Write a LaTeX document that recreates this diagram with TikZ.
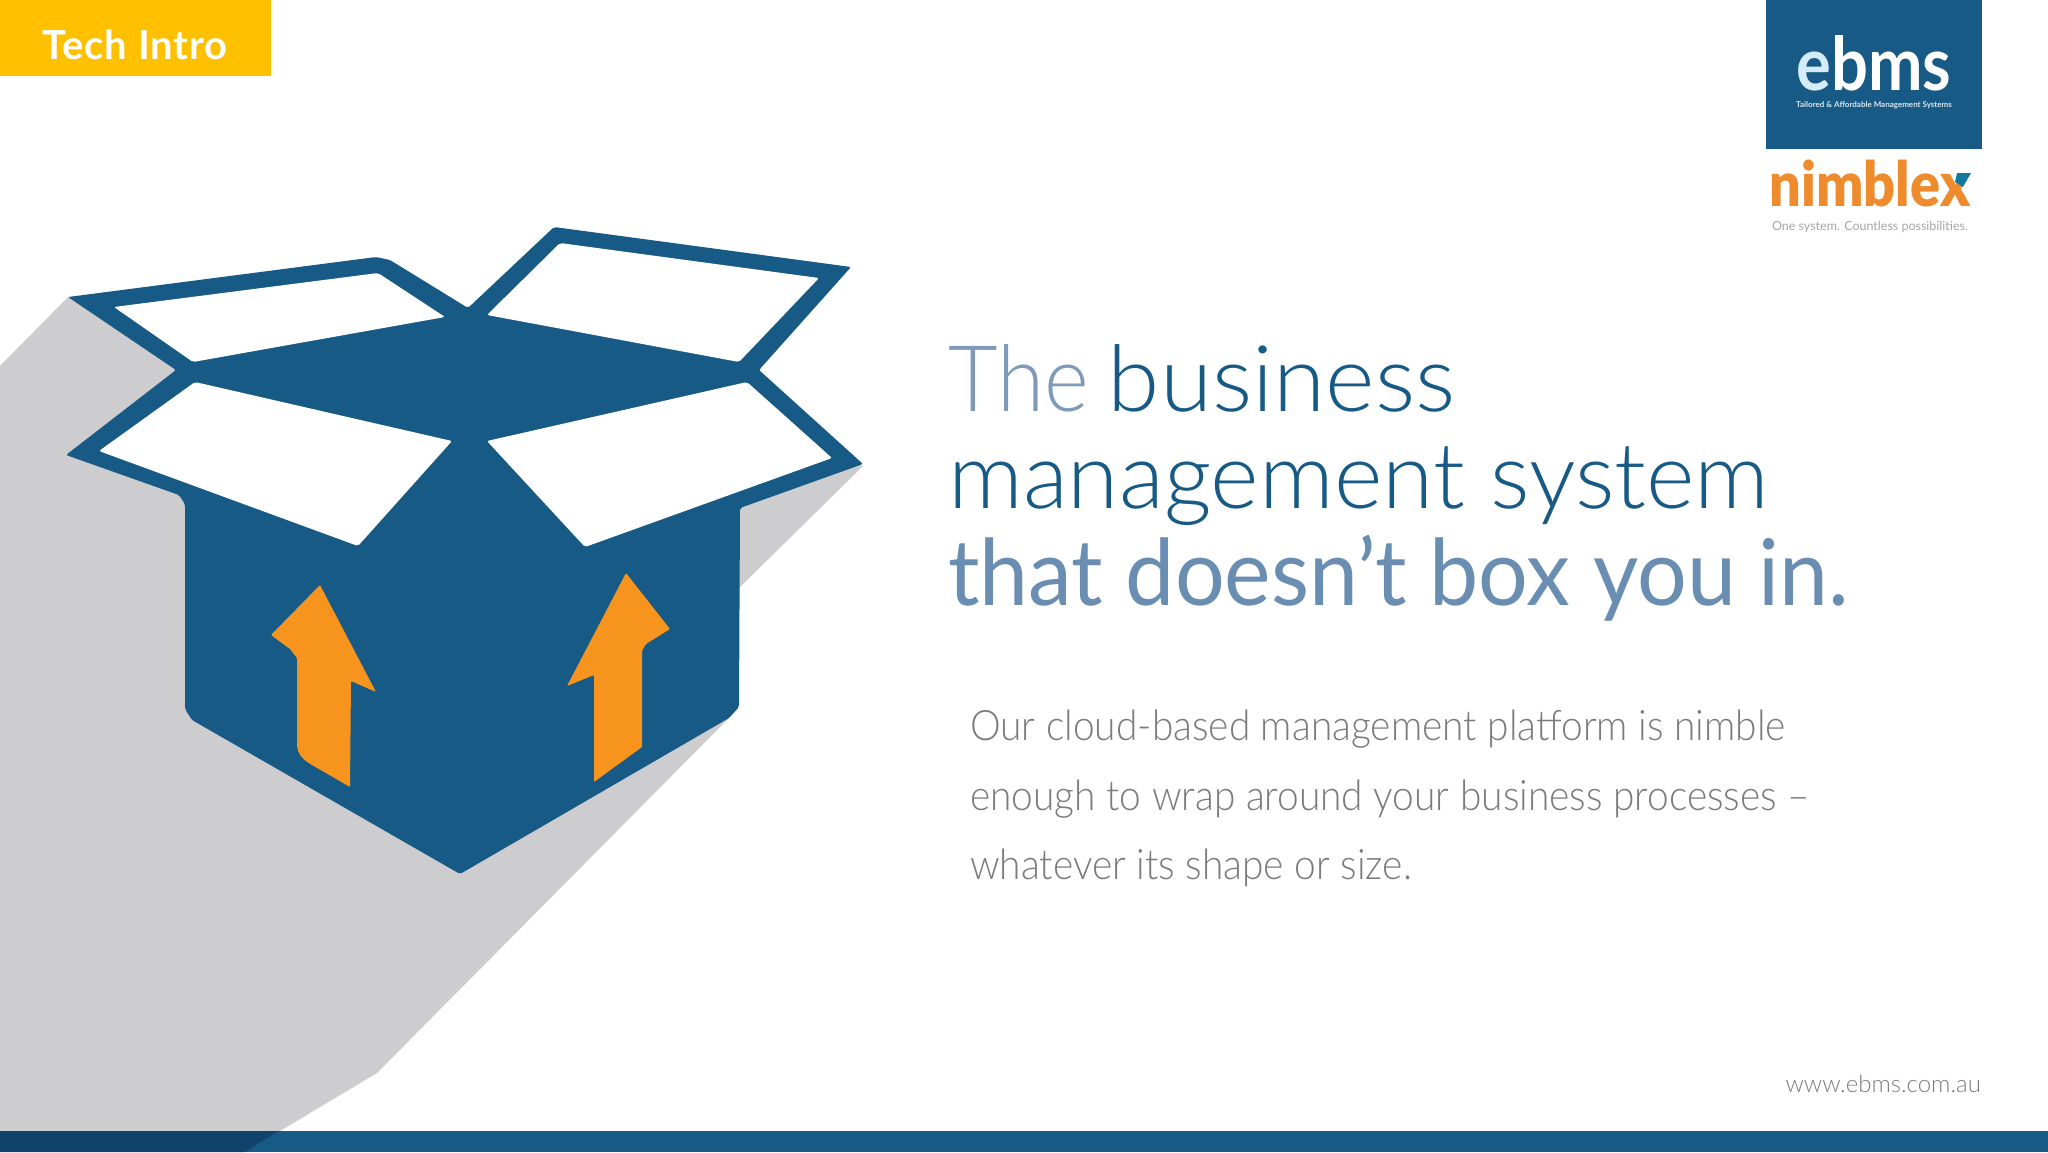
\documentclass[tikz,border=0pt]{standalone}
\usepackage{fontspec}
\setmainfont{Lato}
\newfontfamily\lightfont{Lato Light}
\newfontfamily\heavyfont{Lato Black}
\usetikzlibrary{positioning}
\definecolor{boxblue}{HTML}{165A85}
\definecolor{barshade}{HTML}{10436B}
\definecolor{boxorange}{HTML}{F7941E}
\definecolor{logoorange}{HTML}{EE8B2C}
\definecolor{shadowgrey}{HTML}{CDCCCF}
\definecolor{tagyellow}{HTML}{FFC000}
\definecolor{titlepale}{HTML}{7F9AB8}
\definecolor{titlemid}{HTML}{6A8DB2}
\definecolor{bodygrey}{HTML}{7C7A7E}
\definecolor{logopale}{HTML}{D5EBF8}
\tikzset{
  boxfill/.style={fill=boxblue, rounded corners=2pt},
  flap/.style={fill=white, rounded corners=2pt},
  uparrow/.style={fill=boxorange, rounded corners=1pt},
  titleline/.style={anchor=base west, inner sep=0pt, font=\lightfont\fontsize{92}{92}\selectfont\addfontfeatures{FakeStretch=1.01}},
  bodyline/.style={anchor=base west, inner sep=0pt, text=bodygrey, font=\lightfont\fontsize{42}{42}\selectfont\addfontfeatures{FakeStretch=0.925}}
}
\begin{document}
\begin{tikzpicture}[x=1pt,y=-1pt]
	\useasboundingbox (0,0) rectangle (2048,1152);
	\fill[white] (0,0) rectangle (2048,1152);
	% shadow and bottom bar
	\fill[shadowgrey] (0,366) -- (68,297) -- (863,466) -- (739,588) -- (729,718) -- (377,1073) -- (280,1131) -- (0,1131) -- cycle;
	\fill[boxblue] (0,1131) rectangle (2048,1152);
	\fill[barshade] (0,1131) -- (278,1131) -- (245,1152) -- (0,1152) -- cycle;
	% box
	\fill[boxfill] (68,297) -- (376,257) -- (390,260) -- (468,308) -- (554,227) -- (851,267) -- (759,370) -- (863,464) -- (740,508) -- (739,707) -- (729,718) -- (460,874) -- (192,720) -- (185,709) -- (185,504) -- (179,495) -- (66,455) -- (176,370) -- cycle;
	\fill[flap] (114,307) -- (378,273) -- (445,317) -- (193,362) -- cycle;
	\fill[flap] (560,243) -- (819,278) -- (739,362) -- (487,315) -- cycle;
	\fill[flap] (195,382) -- (452,441) -- (358,546) -- (99,451) -- cycle;
	\fill[flap] (747,382) -- (832,458) -- (585,547) -- (487,441) -- cycle;
	% arrows on the box
	\fill[uparrow] (320,585) -- (376,692) -- (351,681) -- (350,787) -- (312,765) .. controls (300,758) and (297,752) .. (297,742) -- (297,658) -- (290,649) -- (271,635) -- cycle;
	\fill[uparrow] (626,573) -- (670,629) -- (646,644) -- (642,651) -- (642,747) -- (594,782) -- (594,675) -- (567,686) -- cycle;
	% tag
	\fill[tagyellow] (0,0) rectangle (271,76);
	\node[text=white, font=\fontsize{40}{40}\selectfont\bfseries\addfontfeatures{LetterSpace=2}, anchor=base, inner sep=0pt] (tag) at (135,59) {Tech Intro};
	% logos
	\fill[boxblue] (1766,0) rectangle (1982,149);
	\node[anchor=base, inner sep=0pt, text=white, font=\fontsize{74}{74}\selectfont\bfseries\addfontfeatures{FakeStretch=0.88}] (ebms) at (1874,90) {\textcolor{logopale}{e}bms};
	\node[anchor=base, inner sep=0pt, text=white!85!boxblue, font=\fontsize{8}{8}\selectfont\bfseries] (tagline) at (1874,107) {Tailored \& Affordable Management Systems};
	\node[anchor=base, inner sep=0pt, text=logoorange, font=\heavyfont\fontsize{62}{62}\selectfont\addfontfeatures{FakeStretch=0.9}] (nimblex) at (1870,206) {nimblex};
	\fill[boxblue!80!cyan] (1957,173) -- (1971,173) -- (1963,187) -- (1955,182) -- cycle;
	\node[anchor=base, inner sep=0pt, text=black!35, font=\fontsize{12.5}{12.5}\selectfont] (slogan) at (1870,230) {One system. Countless possibilities.};
	% headline
	\node[titleline, text=boxblue] (titleone) at (948,411) {{\addfontfeatures{FakeStretch=0.93}\color{titlepale}The}\hspace{-6pt} {\addfontfeatures{FakeStretch=1.03}business}};
	\node[titleline, text=boxblue] (titletwo) at (948,508) {management system};
	\node[titleline, text=titlemid, font=\fontsize{92}{92}\selectfont\addfontfeatures{FakeStretch=0.955}] (titlethree) at (948,605) {that doesn’t box you in.};
	% body
	\node[bodyline] (bodyone) at (970,740) {Our cloud-based management platform is nimble};
	\node[bodyline] (bodytwo) at (970,810) {enough to wrap around your business processes –};
	\node[bodyline] (bodythree) at (970,879) {whatever its shape or size.};
	\node[anchor=base east, inner sep=0pt, text=bodygrey, font=\lightfont\fontsize{24}{24}\selectfont] (url) at (1981,1092) {www.ebms.com.au};
\end{tikzpicture}
\end{document}
